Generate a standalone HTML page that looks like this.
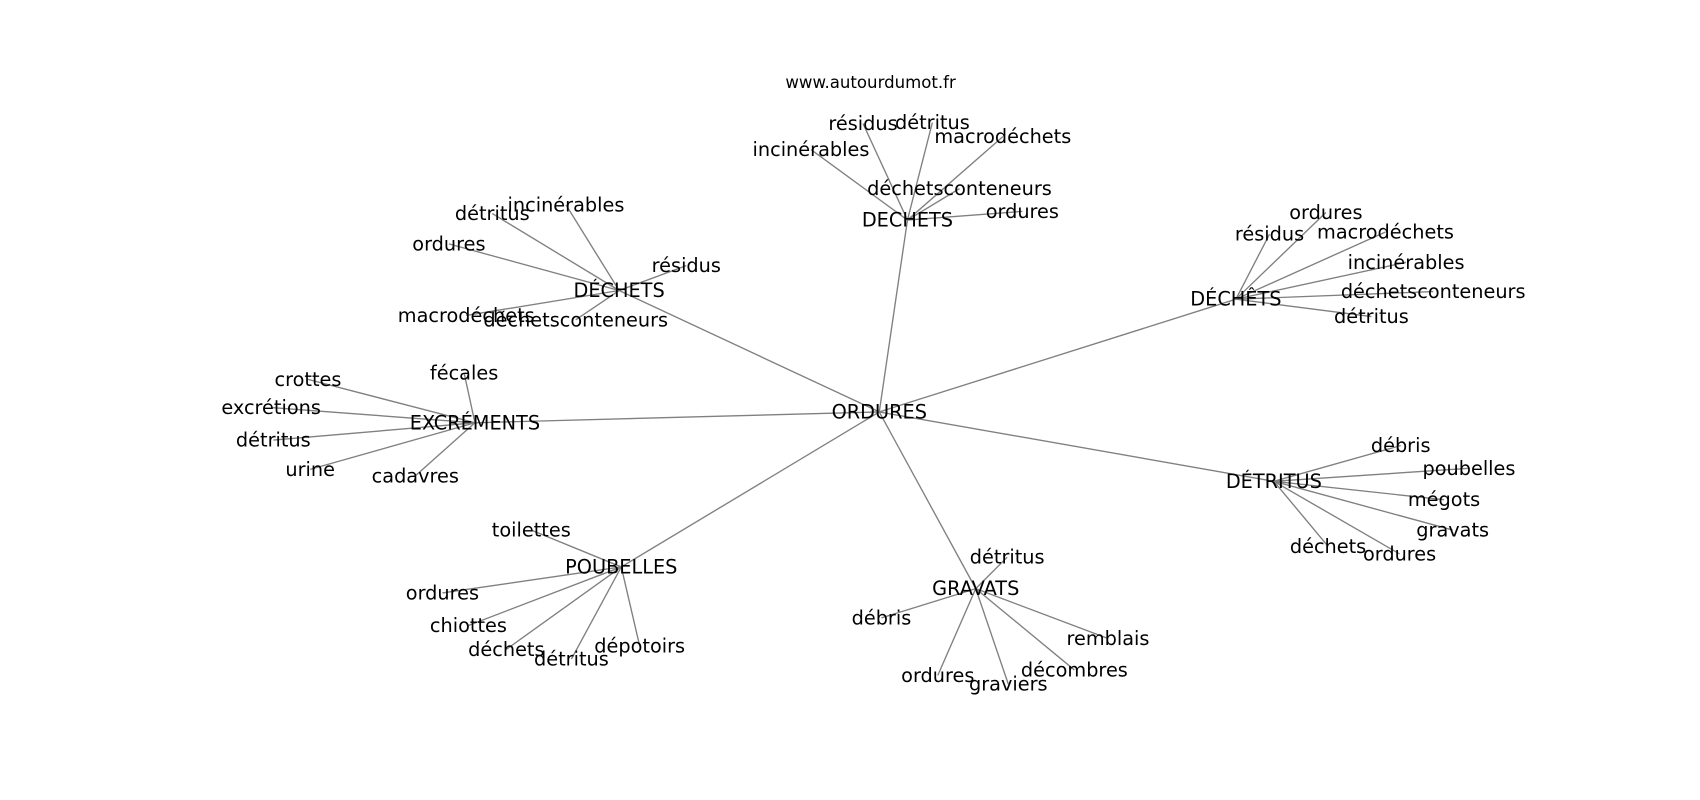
<!DOCTYPE html>
<html><head><meta charset="utf-8"><style>html,body{margin:0;padding:0;background:#fff}svg{display:block}</style></head><body>
<svg width="1700" height="800" viewBox="0 0 1568 738" xmlns="http://www.w3.org/2000/svg" font-family="DejaVu Sans, Liberation Sans, sans-serif">
<rect width="1568" height="738" fill="#fff"/>
<g stroke="#808080" stroke-width="1.25" fill="none">
<line x1="811" y1="380" x2="837" y2="203"/>
<line x1="811" y1="380" x2="571" y2="268"/>
<line x1="811" y1="380" x2="1140" y2="276"/>
<line x1="811" y1="380" x2="438" y2="390"/>
<line x1="811" y1="380" x2="1175" y2="444"/>
<line x1="811" y1="380" x2="900" y2="543"/>
<line x1="811" y1="380" x2="573" y2="523"/>
<line x1="837" y1="203" x2="796" y2="114"/><line x1="837" y1="203" x2="860" y2="113"/><line x1="837" y1="203" x2="925" y2="126"/><line x1="837" y1="203" x2="748" y2="138"/><line x1="837" y1="203" x2="885" y2="174"/><line x1="837" y1="203" x2="943" y2="195"/>
<line x1="571" y1="268" x2="454" y2="197"/><line x1="571" y1="268" x2="522" y2="189"/><line x1="571" y1="268" x2="414" y2="225"/><line x1="571" y1="268" x2="633" y2="245"/><line x1="571" y1="268" x2="430" y2="291"/><line x1="571" y1="268" x2="531" y2="295"/>
<line x1="1140" y1="276" x2="1223" y2="196"/><line x1="1140" y1="276" x2="1171" y2="216"/><line x1="1140" y1="276" x2="1278" y2="214"/><line x1="1140" y1="276" x2="1297" y2="242"/><line x1="1140" y1="276" x2="1322" y2="269"/><line x1="1140" y1="276" x2="1265" y2="292"/>
<line x1="438" y1="390" x2="284" y2="350"/><line x1="438" y1="390" x2="428" y2="344"/><line x1="438" y1="390" x2="250" y2="376"/><line x1="438" y1="390" x2="252" y2="406"/><line x1="438" y1="390" x2="286" y2="433"/><line x1="438" y1="390" x2="383" y2="439"/>
<line x1="1175" y1="444" x2="1292" y2="411"/><line x1="1175" y1="444" x2="1355" y2="432"/><line x1="1175" y1="444" x2="1332" y2="461"/><line x1="1175" y1="444" x2="1340" y2="489"/><line x1="1175" y1="444" x2="1225" y2="504"/><line x1="1175" y1="444" x2="1291" y2="511"/>
<line x1="900" y1="543" x2="929" y2="514"/><line x1="900" y1="543" x2="813" y2="570"/><line x1="900" y1="543" x2="1022" y2="589"/><line x1="900" y1="543" x2="865" y2="623"/><line x1="900" y1="543" x2="930" y2="631"/><line x1="900" y1="543" x2="991" y2="618"/>
<line x1="573" y1="523" x2="490" y2="489"/><line x1="573" y1="523" x2="408" y2="547"/><line x1="573" y1="523" x2="432" y2="577"/><line x1="573" y1="523" x2="467" y2="599"/><line x1="573" y1="523" x2="527" y2="608"/><line x1="573" y1="523" x2="590" y2="596"/>
</g>
<g font-size="17.8" fill="#000" text-anchor="middle" dominant-baseline="central">
<text x="803" y="76" font-size="15.3">www.autourdumot.fr</text>
<text x="811" y="380">ORDURES</text>
<text x="837" y="203">DECHETS</text>
<text x="796" y="114">résidus</text><text x="860" y="113">détritus</text><text x="925" y="126">macrodéchets</text><text x="748" y="138">incinérables</text><text x="885" y="174">déchetsconteneurs</text><text x="943" y="195">ordures</text>
<text x="571" y="268">DÉCHETS</text>
<text x="454" y="197">détritus</text><text x="522" y="189">incinérables</text><text x="414" y="225">ordures</text><text x="633" y="245">résidus</text><text x="430" y="291">macrodéchets</text><text x="531" y="295">déchetsconteneurs</text>
<text x="1140" y="276">DÉCHÊTS</text>
<text x="1223" y="196">ordures</text><text x="1171" y="216">résidus</text><text x="1278" y="214">macrodéchets</text><text x="1297" y="242">incinérables</text><text x="1322" y="269">déchetsconteneurs</text><text x="1265" y="292">détritus</text>
<text x="438" y="390">EXCRÉMENTS</text>
<text x="284" y="350">crottes</text><text x="428" y="344">fécales</text><text x="250" y="376">excrétions</text><text x="252" y="406">détritus</text><text x="286" y="433">urine</text><text x="383" y="439">cadavres</text>
<text x="1175" y="444">DÉTRITUS</text>
<text x="1292" y="411">débris</text><text x="1355" y="432">poubelles</text><text x="1332" y="461">mégots</text><text x="1340" y="489">gravats</text><text x="1225" y="504">déchets</text><text x="1291" y="511">ordures</text>
<text x="900" y="543">GRAVATS</text>
<text x="929" y="514">détritus</text><text x="813" y="570">débris</text><text x="1022" y="589">remblais</text><text x="865" y="623">ordures</text><text x="930" y="631">graviers</text><text x="991" y="618">décombres</text>
<text x="573" y="523">POUBELLES</text>
<text x="490" y="489">toilettes</text><text x="408" y="547">ordures</text><text x="432" y="577">chiottes</text><text x="467" y="599">déchets</text><text x="527" y="608">détritus</text><text x="590" y="596">dépotoirs</text>
</g>
</svg>
</body></html>
